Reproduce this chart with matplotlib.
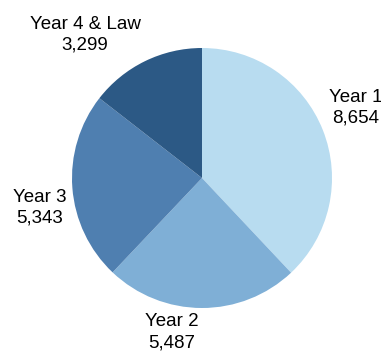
import matplotlib
matplotlib.use("Agg")
import matplotlib.pyplot as plt

# data
categories = ["Year 1", "Year 2", "Year 3", "Year 4 & Law"]
counts = [8654, 5487, 5343, 3299]

# style / layout
colors = ["#B8DCF0", "#7FAFD6", "#4F7FB0", "#2C5985"]
# label centres in pie-radius units
label_pos = [(1.18, 0.54), (-0.23, -1.185), (-1.25, -0.23), (-0.90, 1.10)]

plt.rcParams['font.family'] = ['Liberation Sans', 'DejaVu Sans']

fig = plt.figure(figsize=(3.81, 3.52), dpi=100)
ax = fig.add_axes([72 / 381, 44 / 352, 260 / 381, 260 / 352])

wedges, _ = ax.pie(counts, colors=colors, startangle=90, counterclock=False,
                   radius=1.0, wedgeprops=dict(linewidth=0))

for name, val, (x, y) in zip(categories, counts, label_pos):
    ax.text(x, y, "%s\n%s" % (name, format(val, ",")), ha="center", va="center",
            fontsize=13.5, color="black", linespacing=1.3, clip_on=False)

ax.set_xlim(-1, 1)
ax.set_ylim(-1, 1)
ax.axis("off")

fig.savefig("out.png", dpi=100)
